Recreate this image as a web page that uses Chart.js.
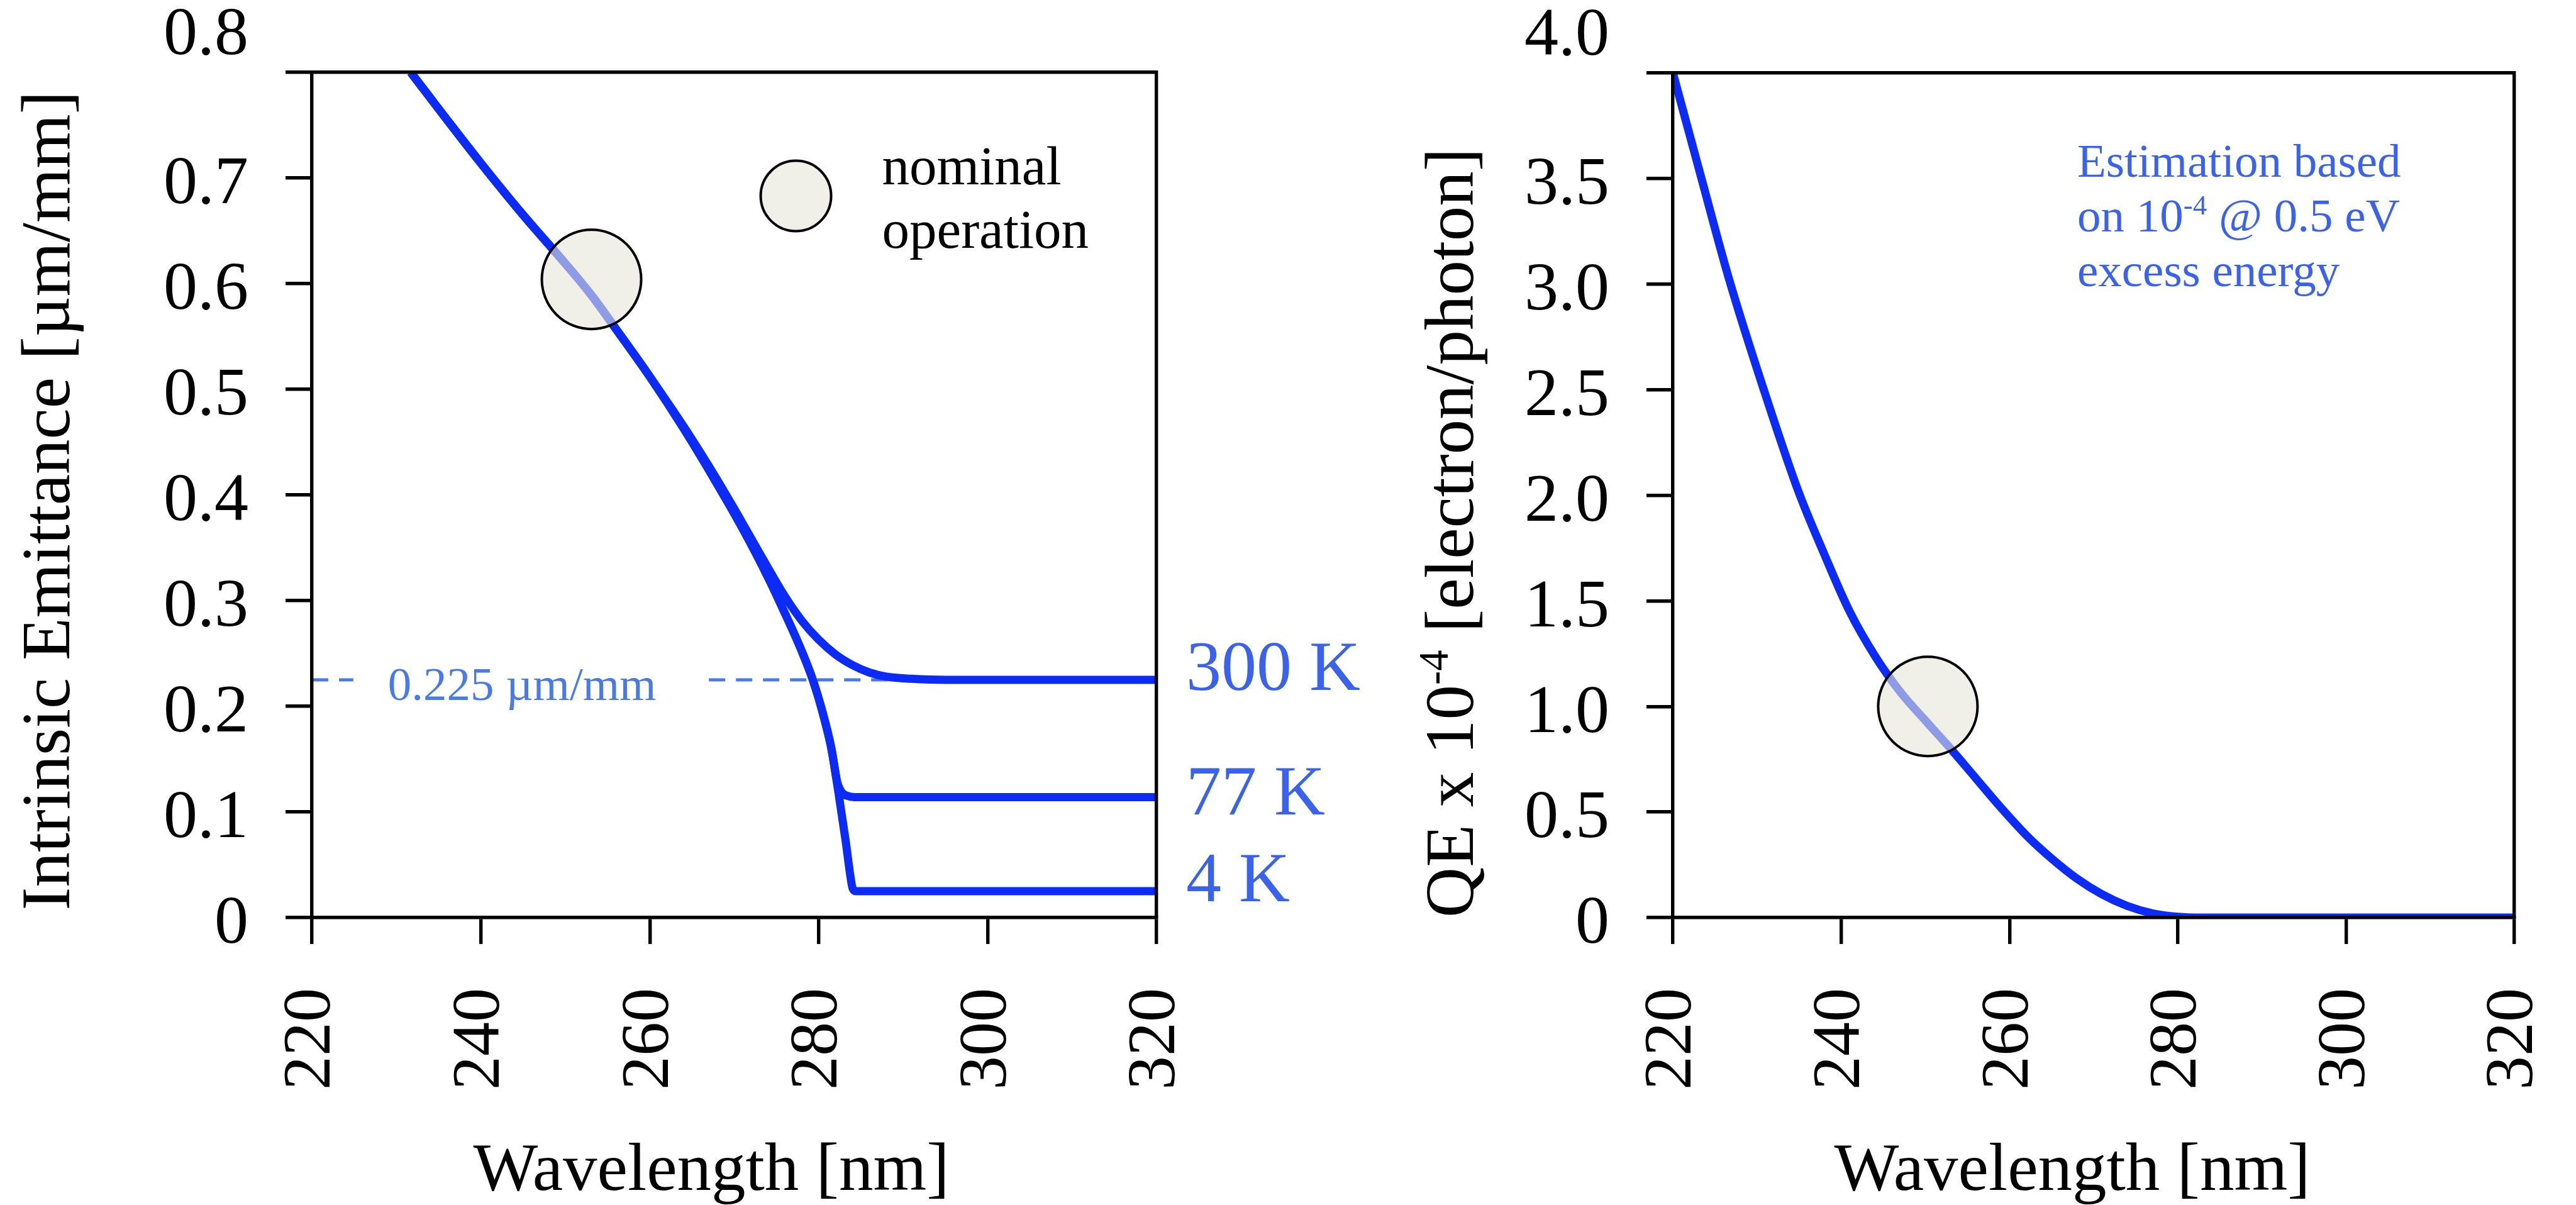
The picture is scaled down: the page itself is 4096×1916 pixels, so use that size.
<!DOCTYPE html>
<html>
<head>
<meta charset="utf-8">
<script src="https://cdn.jsdelivr.net/npm/chart.js@4.4.1/dist/chart.umd.min.js"></script>
<style>
  html, body { margin: 0; padding: 0; background: #fff; }
  body { width: 4096px; height: 1916px; position: relative; overflow: hidden; }
  canvas { position: absolute; top: 0; }
  #emittance { left: 0; }
  #qe { left: 2200px; }
</style>
</head>
<body>
<canvas id="emittance" width="2200" height="1916"></canvas>
<canvas id="qe" width="1896" height="1916"></canvas>
<script>
// Intrinsic emittance vs wavelength, one curve per cathode temperature
const wl4K = [231.7, 236, 240, 245, 250, 253, 256, 260, 264, 268, 271, 274, 276, 278, 279.3, 280.5, 281.5, 282.4, 283.2, 283.7, 284.0, 284.4, 290, 320];
const em4K = [0.800, 0.755, 0.714, 0.665, 0.619, 0.590, 0.557, 0.512, 0.463, 0.410, 0.368, 0.322, 0.288, 0.252, 0.225, 0.193, 0.160, 0.115, 0.072, 0.042, 0.028, 0.025, 0.025, 0.025];
const wl77K = [231.7, 236, 240, 245, 250, 253, 256, 260, 264, 268, 271, 274, 276, 278, 279.3, 280.5, 281.5, 282.2, 282.8, 283.5, 284.5, 290, 320];
const em77K = [0.800, 0.755, 0.714, 0.665, 0.619, 0.590, 0.557, 0.512, 0.463, 0.410, 0.368, 0.322, 0.288, 0.252, 0.225, 0.193, 0.160, 0.128, 0.118, 0.115, 0.114, 0.114, 0.114];
const wl300K = [231.7, 236, 240, 245, 250, 253, 256, 260, 264, 266, 268, 270, 272, 274, 276, 278, 280, 282, 284, 286, 288, 291, 295, 320];
const em300K = [0.800, 0.755, 0.714, 0.665, 0.619, 0.590, 0.557, 0.512, 0.465, 0.440, 0.414, 0.387, 0.359, 0.331, 0.304, 0.281, 0.263, 0.249, 0.239, 0.232, 0.228, 0.226, 0.225, 0.225];

// 0.225 µm/mm reference, broken where its label sits
const refWl = [220, 224.9, 246, 267, 320];
const refEm = [0.225, 0.225, null, 0.225, 0.225];

// Quantum efficiency (units of 1e-4 electron/photon)
const wlQE = [220, 223.4, 226.7, 230.8, 234.9, 238, 241, 244, 247, 250.3, 253, 256, 259, 262, 265, 268, 271, 274, 277, 280, 283, 290, 320];
const qe = [4.00, 3.50, 3.02, 2.50, 2.02, 1.72, 1.45, 1.24, 1.07, 0.92, 0.80, 0.66, 0.52, 0.39, 0.28, 0.185, 0.11, 0.055, 0.02, 0.004, 0, 0, 0];

// operating points and the legend marker
const nominalEmittance = [{ x: 253.1, y: 0.604 }];
const legendMarker = [{ x: 277.3, y: 0.683 }];
const nominalQE = [{ x: 250.3, y: 1.0 }];

const xTicks = { min: 220, max: 320, step: 20 };
const emTicks = { min: 0, max: 0.8, step: 0.1 };
const qeTicks = { min: 0, max: 4, step: 0.5 };

const SERIF = '"Liberation Serif", "Times New Roman", Times, serif';
const CURVE_BLUE = '#0c2cf5';
const TEXT_BLUE = '#3a62ea';
const DASH_BLUE = '#4a7be4';
const CIRCLE_FILL = 'rgba(230, 230, 218, 0.6)';
const FRAME = 5.4;
const TICK_LEN = 42;
const TICK_FONT = 108;

const font = size => `${size}px ${SERIF}`;
const toXY = (xs, ys) => xs.map((x, i) => ({ x, y: ys[i] }));

// draws a row of text pieces; pieces flagged sup are shrunk and raised
function drawRuns(ctx, runs, x, y, size, color, align) {
  ctx.save();
  ctx.fillStyle = color;
  ctx.textBaseline = 'alphabetic';
  ctx.textAlign = 'left';
  const widths = runs.map(r => {
    ctx.font = font(r.sup ? size * 0.6 : size);
    return ctx.measureText(r.text).width;
  });
  const total = widths.reduce((a, b) => a + b, 0);
  let cx = align === 'center' ? x - total / 2 : x;
  runs.forEach((r, i) => {
    ctx.font = font(r.sup ? size * 0.6 : size);
    ctx.fillText(r.text, cx, r.sup ? y - size * 0.36 : y);
    cx += widths[i];
  });
  ctx.restore();
}

function drawRotated(ctx, runs, x, y, size, color, align) {
  ctx.save();
  ctx.translate(x, y);
  ctx.rotate(-Math.PI / 2);
  drawRuns(ctx, runs, 0, 0, size, color, align);
  ctx.restore();
}

// the top tick label sits well above its tick, so it is drawn by hand
function drawTopTick(chart, text) {
  const ctx = chart.ctx;
  const area = chart.chartArea;
  ctx.save();
  ctx.font = font(TICK_FONT);
  ctx.fillStyle = '#000';
  ctx.textAlign = 'right';
  ctx.textBaseline = 'middle';
  ctx.fillText(text, area.left - TICK_LEN - 59, area.top - 57);
  ctx.restore();
}

function tickLabel(top) {
  return v => {
    if (Math.abs(v - top) < 1e-9) return '';
    return v === 0 ? '0' : v.toFixed(1);
  };
}

function zeroPadding(s) {
  s.paddingTop = 0; s.paddingBottom = 0; s.paddingLeft = 0; s.paddingRight = 0;
}

function buildScales(yRange, yWidth) {
  const lineGrid = { drawOnChartArea: false, color: '#000', lineWidth: FRAME, tickLength: TICK_LEN };
  const border = { display: true, color: '#000', width: FRAME, z: 1 };
  return {
    x: {
      type: 'linear', position: 'bottom', min: xTicks.min, max: xTicks.max,
      ticks: {
        stepSize: xTicks.step, autoSkip: false, minRotation: 90, maxRotation: 90,
        padding: 70, color: '#000', font: { family: SERIF, size: TICK_FONT },
        callback: v => String(v)
      },
      grid: lineGrid, border: border,
      afterFit: s => { s.height = 457; zeroPadding(s); }
    },
    y: {
      type: 'linear', position: 'left', min: yRange.min, max: yRange.max,
      ticks: {
        stepSize: yRange.step, padding: 59, labelOffset: 12, color: '#000',
        font: { family: SERIF, size: TICK_FONT }, callback: tickLabel(yRange.max)
      },
      grid: lineGrid, border: border,
      afterFit: s => { s.width = yWidth; zeroPadding(s); }
    },
    xTop: {
      type: 'linear', position: 'top', min: xTicks.min, max: xTicks.max,
      ticks: { display: false }, grid: { display: false }, border: border,
      afterFit: s => { s.height = 0; zeroPadding(s); }
    },
    yRight: {
      type: 'linear', position: 'right', min: yRange.min, max: yRange.max,
      ticks: { display: false }, grid: { display: false }, border: border,
      afterFit: s => { s.width = 0; zeroPadding(s); }
    }
  };
}

function curve(data, extra) {
  return Object.assign({
    data: data, borderColor: CURVE_BLUE, borderWidth: 13, pointRadius: 0,
    fill: false, cubicInterpolationMode: 'monotone', borderCapStyle: 'butt', order: 1
  }, extra || {});
}

function marker(data, radius) {
  return {
    data: data, showLine: false, pointRadius: radius, pointHoverRadius: radius,
    pointBackgroundColor: CIRCLE_FILL, pointBorderColor: '#000', pointBorderWidth: 4, order: 0
  };
}

const baseOptions = {
  responsive: false, animation: false, devicePixelRatio: 1,
  events: [],
  plugins: { legend: { display: false }, tooltip: { enabled: false } }
};

const emittanceNotes = {
  id: 'emittanceNotes',
  afterDraw(chart) {
    const ctx = chart.ctx;
    const x = chart.scales.x, y = chart.scales.y;
    drawTopTick(chart, '0.8');
    drawRotated(ctx, [{ text: 'Intrinsic Emittance [µm/mm]' }], 110, 796, 111, '#000', 'center');
    drawRuns(ctx, [{ text: 'Wavelength [nm]' }], 1131, 1892, 109, '#000', 'center');
    drawRuns(ctx, [{ text: '0.225 µm/mm' }], x.getPixelForValue(229), y.getPixelForValue(0.206), 75, DASH_BLUE, 'left');
    drawRuns(ctx, [{ text: 'nominal' }], x.getPixelForValue(287.5), y.getPixelForValue(0.694), 87, '#000', 'left');
    drawRuns(ctx, [{ text: 'operation' }], x.getPixelForValue(287.5), y.getPixelForValue(0.634), 87, '#000', 'left');
    const lx = chart.chartArea.right + 47;
    drawRuns(ctx, [{ text: '300 K' }], lx, y.getPixelForValue(0.2157), 112, TEXT_BLUE, 'left');
    drawRuns(ctx, [{ text: '77 K' }], lx, y.getPixelForValue(0.0977), 112, TEXT_BLUE, 'left');
    drawRuns(ctx, [{ text: '4 K' }], lx, y.getPixelForValue(0.0157), 112, TEXT_BLUE, 'left');
  }
};

const qeNotes = {
  id: 'qeNotes',
  afterDraw(chart) {
    const ctx = chart.ctx;
    const x = chart.scales.x, y = chart.scales.y;
    drawTopTick(chart, '4.0');
    drawRotated(ctx, [
      { text: 'QE x 10' }, { text: '-4', sup: true }, { text: ' [electron/photon]' }
    ], 142, chart.chartArea.bottom, 111, '#000', 'left');
    drawRuns(ctx, [{ text: 'Wavelength [nm]' }], 1095, 1892, 109, '#000', 'center');
    const tx = x.getPixelForValue(268.06);
    const ty = y.getPixelForValue(3.51);
    drawRuns(ctx, [{ text: 'Estimation based' }], tx, ty, 75, TEXT_BLUE, 'left');
    drawRuns(ctx, [{ text: 'on 10' }, { text: '-4', sup: true }, { text: ' @ 0.5 eV' }], tx, ty + 87, 75, TEXT_BLUE, 'left');
    drawRuns(ctx, [{ text: 'excess energy' }], tx, ty + 174, 75, TEXT_BLUE, 'left');
  }
};

new Chart(document.getElementById('emittance'), {
  type: 'line',
  data: {
    datasets: [
      marker(nominalEmittance, 79),
      marker(legendMarker, 56),
      curve(toXY(wl300K, em300K)),
      curve(toXY(wl77K, em77K)),
      curve(toXY(wl4K, em4K)),
      curve(toXY(refWl, refEm), {
        borderColor: DASH_BLUE, borderWidth: 5, borderDash: [26, 17],
        cubicInterpolationMode: 'default', tension: 0, spanGaps: false, order: 2
      })
    ]
  },
  options: Object.assign({}, baseOptions, {
    layout: { autoPadding: false, padding: { left: 0, right: 361, top: 115, bottom: 0 } },
    scales: buildScales(emTicks, 496)
  }),
  plugins: [emittanceNotes]
});

new Chart(document.getElementById('qe'), {
  type: 'line',
  data: {
    datasets: [
      marker(nominalQE, 79),
      curve(toXY(wlQE, qe))
    ]
  },
  options: Object.assign({}, baseOptions, {
    layout: { autoPadding: false, padding: { left: 0, right: 98, top: 116, bottom: 0 } },
    scales: buildScales(qeTicks, 460)
  }),
  plugins: [qeNotes]
});
</script>
</body>
</html>
